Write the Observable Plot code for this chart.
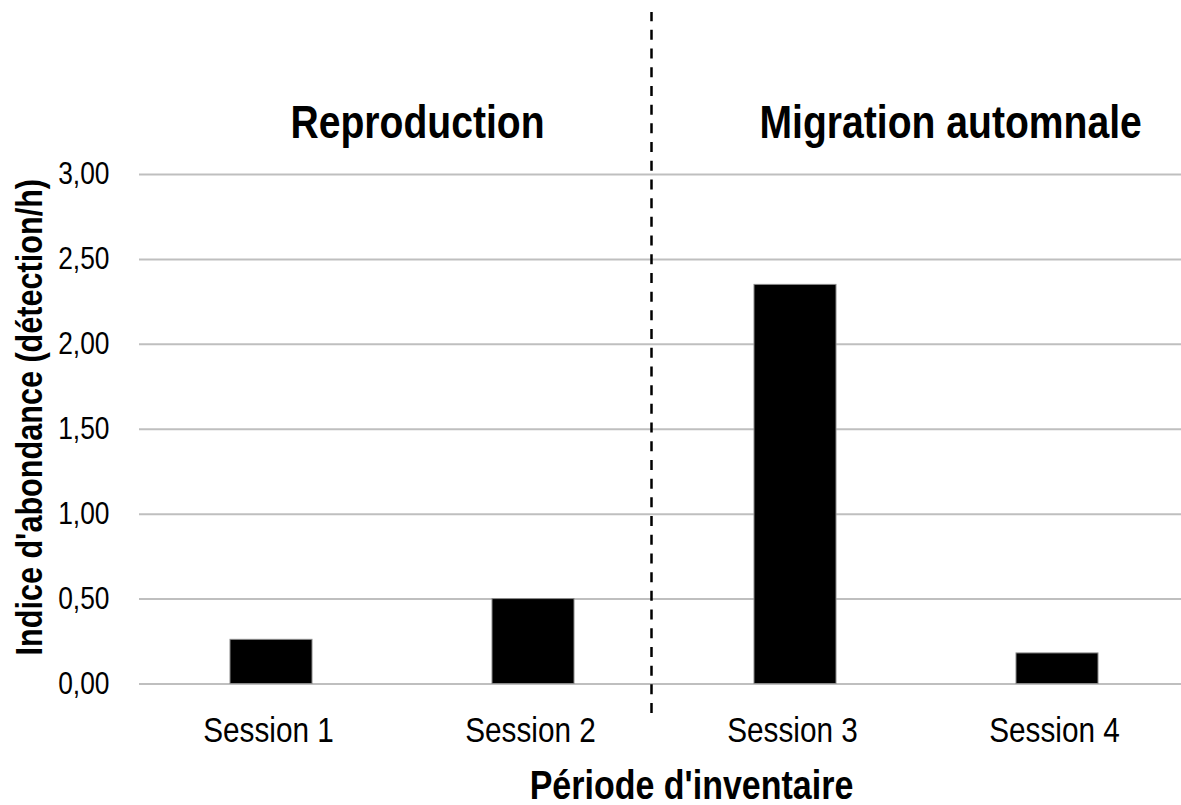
<!DOCTYPE html>
<html>
<head>
<meta charset="utf-8">
<script src="https://cdn.jsdelivr.net/npm/d3@7"></script>
<script src="https://cdn.jsdelivr.net/npm/@observablehq/plot@0.6"></script>
<style>
  html, body { margin: 0; padding: 0; background: #fff; }
  #chart svg { display: block; }
</style>
</head>
<body>
<div id="chart"></div>
<script>
const sessions = ["Session 1", "Session 2", "Session 3", "Session 4"];
const values = [0.26, 0.50, 2.35, 0.18];
const yTicks = [0, 0.5, 1, 1.5, 2, 2.5, 3];
const periodLabels = ["Reproduction", "Migration automnale"];
const periodStarts = ["Session 1", "Session 3"];
const dividerBefore = ["Session 3"];
const dividerExtent = [-0.174, 3.954];
const xLabel = "Période d'inventaire";
const yLabel = "Indice d'abondance (détection/h)";

const data = sessions.map((s, i) => ({session: s, value: values[i]}));
const font = '"Liberation Sans Narrow", "Arial Narrow", "Liberation Sans", Arial, sans-serif';
const condense = 0.85;

const chart = Plot.plot({
  width: 1181,
  height: 805,
  marginLeft: 139,
  marginRight: 0,
  marginTop: 174,
  marginBottom: 121.5,
  style: {fontFamily: font, color: "#000", background: "#fff", overflow: "visible"},
  x: {domain: sessions, range: [139, 1189], paddingInner: 0.6876, paddingOuter: 0.3438, axis: null},
  y: {domain: [0, 3], axis: null},
  marks: [
    Plot.ruleY(yTicks, {stroke: "#bfbfbf", strokeWidth: 2}),
    Plot.barY(data, {x: "session", y: "value", fill: "#000", stroke: "#8a8a8a", strokeWidth: 1}),
    Plot.ruleX(dividerBefore, {x: d => d, y1: dividerExtent[0], y2: dividerExtent[1], dx: -144,
      stroke: "#000", strokeWidth: 2.5, strokeDasharray: "10,8.7"}),
    Plot.axisY({ticks: yTicks, tickFormat: d => d.toFixed(2).replace(".", ","), tickSize: 0, tickPadding: 30,
      fontSize: 31, label: null, fill: "#000"}),
    Plot.axisX({tickSize: 0, tickPadding: 33, fontSize: 35, label: null, fill: "#000", dx: -3}),
    Plot.text([periodLabels[0]], {x: [periodStarts[0]], y: [3], textAnchor: "start", lineAnchor: "bottom",
      dx: 19, dy: -37, fontSize: 46, fontWeight: "bold", fill: "#000"}),
    Plot.text([periodLabels[1]], {x: [periodStarts[1]], y: [3], textAnchor: "start", lineAnchor: "bottom",
      dx: -36, dy: -37, fontSize: 46, fontWeight: "bold", fill: "#000"}),
    Plot.text([xLabel], {frameAnchor: "bottom", textAnchor: "middle", lineAnchor: "bottom", dx: 31, dy: 115,
      fontSize: 40, fontWeight: "bold", fill: "#000"}),
    Plot.text([yLabel], {frameAnchor: "left", textAnchor: "middle", lineAnchor: "bottom", rotate: -90, dx: -98, dy: -12,
      fontSize: 36, fontWeight: "bold", fill: "#000"})
  ]
});
document.getElementById("chart").appendChild(chart);

// Condense glyphs to mimic the narrow typeface of the original
chart.querySelectorAll("text").forEach(t => {
  const len = t.getComputedTextLength();
  if (len > 0) {
    t.setAttribute("textLength", (len * condense).toFixed(2));
    t.setAttribute("lengthAdjust", "spacingAndGlyphs");
  }
});
</script>
</body>
</html>
